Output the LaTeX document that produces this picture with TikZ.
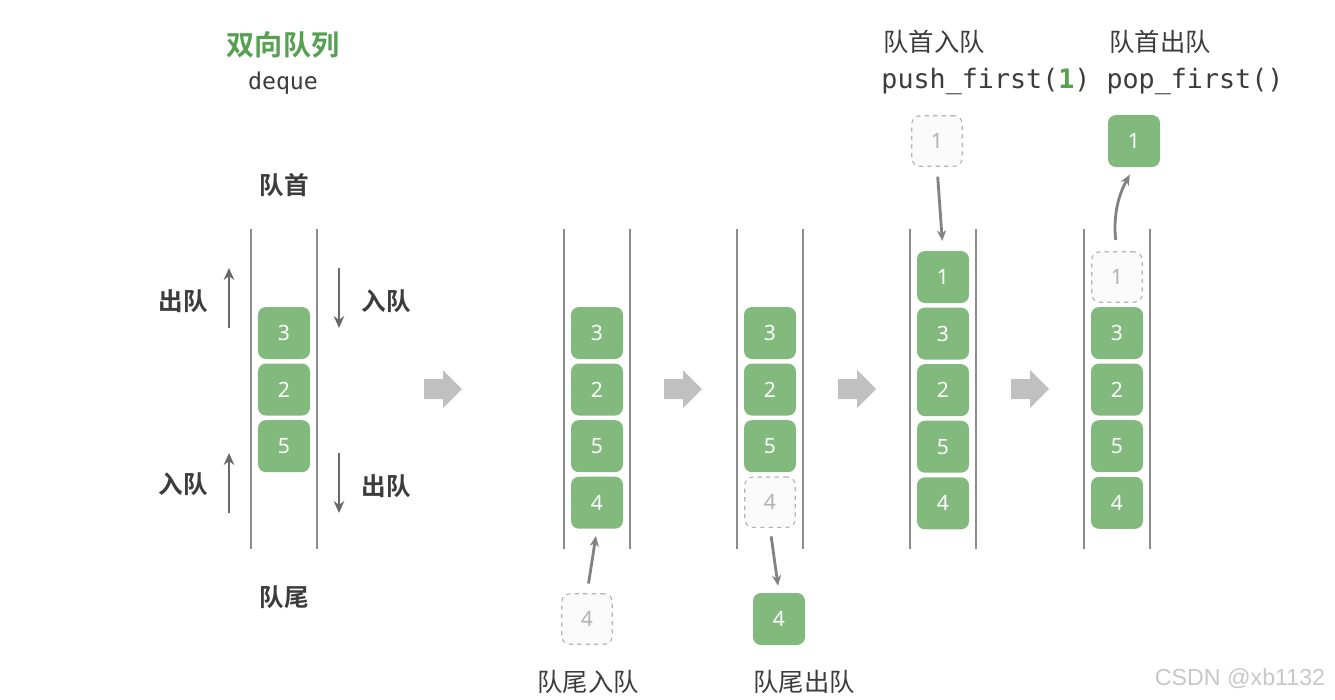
\documentclass[tikz,border=0pt]{standalone}
\usepackage{fontspec}
\setmainfont{Noto Sans}
\newfontfamily\cjk{Noto Sans CJK SC}[BoldFont={Noto Sans CJK SC Bold}]
\newfontfamily\mono{DejaVu Sans Mono}
\newfontfamily\wmfont{Liberation Sans}
\usetikzlibrary{arrows.meta,positioning}
\definecolor{qgreen}{RGB}{130,186,126}
\definecolor{tgreen}{RGB}{86,160,82}
\definecolor{wallgray}{RGB}{140,140,140}
\definecolor{arrgray}{RGB}{105,105,105}
\definecolor{movegray}{RGB}{130,130,130}
\definecolor{flowgray}{RGB}{192,192,192}
\definecolor{txtgray}{RGB}{60,60,60}

\begin{document}
\begin{tikzpicture}[x=0.025cm, y=-0.025cm,
  cell/.style={fill=qgreen, rounded corners=0.2cm, minimum size=1.3cm, inner sep=0pt,
    text=white, font=\fontsize{15}{15}\selectfont},
  ghost/.style={cell, draw=black!30, dashed, line width=0.8pt, fill=black!2, text=black!30,
    minimum size=1.26cm},
  wall/.style={wallgray, line width=1.1pt},
  side/.style={-{Stealth[length=8.5pt, width=7.5pt]}, arrgray, line width=2pt},
  move/.style={-{Stealth[length=7.5pt, width=6.5pt]}, movegray, line width=2pt},
  lbl/.style={text=txtgray, font=\cjk\bfseries\fontsize{17.5}{18}\selectfont, inner sep=0pt},
  op/.style={text=txtgray, font=\cjk\fontsize{18}{18}\selectfont, inner sep=0pt},
  code/.style={text=txtgray, font=\mono\fontsize{19}{19}\selectfont, inner sep=0pt}
]
\useasboundingbox (0,0) rectangle (1335,699);

% title
\node[font=\cjk\bfseries\fontsize{20}{20}\selectfont, text=tgreen, inner sep=0pt] (title) at (283,45) {双向队列};
\node[code, font=\mono\fontsize{16.5}{16.5}\selectfont] (subtitle) at (283,83) {deque};

% stack walls
\foreach \cx in {284,597,770,943,1117} {
  \draw[wall] (\cx-33,229) -- (\cx-33,549);
  \draw[wall] (\cx+33,229) -- (\cx+33,549);
}

% deque
\node[cell] (s1a) at (284,333) {3};
\node[cell, below=0.1cm of s1a] (s1b) {2};
\node[cell, below=0.1cm of s1b] (s1c) {5};
\node[lbl] (head) at (284,185) {队首};
\node[lbl] (tail) at (284,597) {队尾};
\node[lbl] (popl) at (183,301) {出队};
\node[lbl] (pushl) at (386,301) {入队};
\node[lbl] (pushr) at (183,484) {入队};
\node[lbl] (popr) at (386,486) {出队};
\draw[side] (229,328) -- (229,268);
\draw[side] (339,268) -- (339,328);
\draw[side] (229,513) -- (229,453);
\draw[side] (339,453) -- (339,513);

% push_last
\node[cell] (s2a) at (597,333) {3};
\node[cell, below=0.1cm of s2a] (s2b) {2};
\node[cell, below=0.1cm of s2b] (s2c) {5};
\node[cell, below=0.1cm of s2c] (s2d) {4};
\node[ghost] (n2) at (587,619) {4};
\node[op] (op2) at (588,682) {队尾入队};
\draw[move, shorten <=7pt, shorten >=5pt] (n2.north) -- (s2d.south);

% pop_last
\node[cell] (s3a) at (770,333) {3};
\node[cell, below=0.1cm of s3a] (s3b) {2};
\node[cell, below=0.1cm of s3b] (s3c) {5};
\node[ghost, below=0.1cm of s3c] (s3d) {4};
\node[cell] (n3) at (779,619) {4};
\node[op] (op3) at (804,682) {队尾出队};
\draw[move, shorten <=6pt, shorten >=5pt] (s3d.south) -- (n3.north);

% push_first
\node[cell] (s4a) at (943,277) {1};
\node[cell, below=0.1cm of s4a] (s4b) {3};
\node[cell, below=0.1cm of s4b] (s4c) {2};
\node[cell, below=0.1cm of s4c] (s4d) {5};
\node[cell, below=0.1cm of s4d] (s4e) {4};
\node[ghost] (n4) at (937,141) {1};
\node[op] (op4) at (934,42) {队首入队};
\node[code] (code4) at (986,81) {push\_first(\textcolor{tgreen}{\bfseries 1})};
\draw[move, shorten <=7pt, shorten >=7pt] (n4.south) -- (s4a.north);

% pop_first
\node[ghost] (s5a) at (1117,277) {1};
\node[cell, below=0.1cm of s5a] (s5b) {3};
\node[cell, below=0.1cm of s5b] (s5c) {2};
\node[cell, below=0.1cm of s5c] (s5d) {5};
\node[cell, below=0.1cm of s5d] (s5e) {4};
\node[cell] (n5) at (1134,141) {1};
\node[op] (op5) at (1160,42) {队首出队};
\node[code] (code5) at (1195,81) {pop\_first()};
\draw[move, shorten <=8pt, shorten >=6pt] (s5a.north) to[bend left=18] (n5.south);

% step arrows
\foreach \ax in {424,664,838,1011}
  \fill[flowgray] (\ax,379) -- (\ax+19,379) -- (\ax+19,370) -- (\ax+38,389)
    -- (\ax+19,408) -- (\ax+19,399) -- (\ax,399) -- cycle;

\node[text=black!22, font=\wmfont\fontsize{16.5}{16.5}\selectfont, inner sep=0pt] (mark) at (1240,679) {CSDN @xb1132};
\end{tikzpicture}
\end{document}
